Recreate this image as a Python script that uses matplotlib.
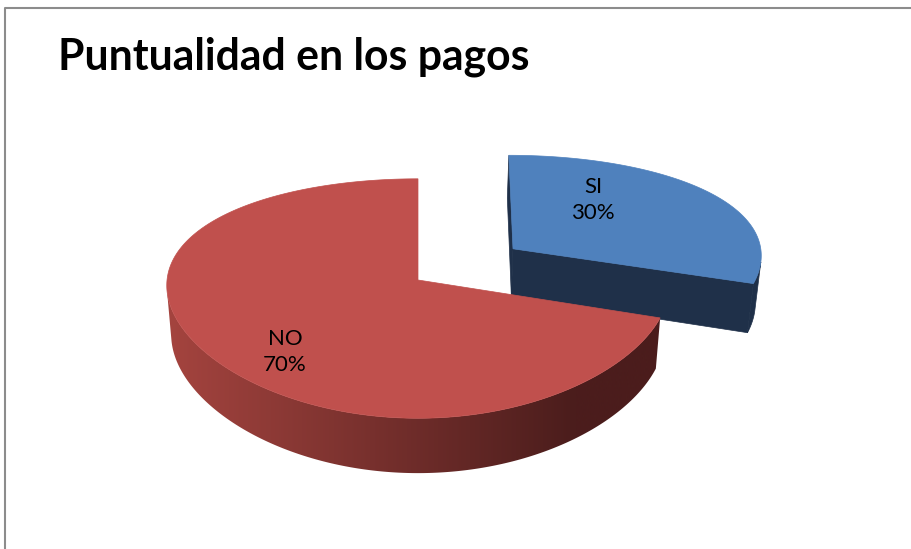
import numpy as np
import matplotlib.pyplot as plt
from matplotlib.patches import Polygon
from matplotlib.colors import to_rgb

# Datos
categorias = ["SI", "NO"]
valores = [30, 70]
explotar = [0.474, 0.0]
colores_top = ["#4F81BD", "#C0504D"]
colores_lado = ["#1F3049", None]
titulo = "Puntualidad en los pagos"

W, H = 912, 549
fig = plt.figure(figsize=(W / 100, H / 100), dpi=100)
ax = fig.add_axes([0, 0, 1, 1])
ax.set_xlim(0, W)
ax.set_ylim(H, 0)
ax.axis("off")

# proyeccion en perspectiva (vista de Excel 3D)
phi = np.radians(27.5)
s, c = np.sin(phi), np.cos(phi)
D = 5.73
kx, ky = 1438, 1450
px = 0.3   # perspectiva horizontal mas debil en profundidad
cx, cy = 418, 280
h = 0.222


def proj(x, y, z):
    depth = D + y * c - z * s
    depth_x = D + px * y * c - z * s
    return cx + kx * x / depth_x, cy - ky * (y * s + z * c) / depth


def area(pts):
    p = np.array(pts)
    return np.sum(p[:, 0] * np.roll(p[:, 1], -1) - np.roll(p[:, 0], -1) * p[:, 1])


# degradado del lado rojo
gx = np.linspace(0, W, 400)
t = np.clip((gx - 165) / (575 - 165), 0, 1)
ca = np.array(to_rgb("#A5443F"))
cb = np.array(to_rgb("#4B1D1C"))
grad = (ca[None, :] + (cb - ca)[None, :] * t[:, None])[None, :, :]

# angulos: empieza a las 12 y gira en sentido horario
tot = sum(valores)
inicio = 90.0
rangos = []
for v in valores:
    fin = inicio - 360.0 * v / tot
    rangos.append((fin, inicio))
    inicio = fin

# dibujar SI primero (detras), luego NO
for i in [0, 1]:
    a0, a1 = np.radians(rangos[i][0]), np.radians(rangos[i][1])
    mid = (a0 + a1) / 2
    ox, oy = explotar[i] * np.cos(mid), explotar[i] * np.sin(mid)
    th = np.linspace(a0, a1, 400)
    xs, ys = ox + np.cos(th), oy + np.sin(th)

    # caras de corte
    for ang, sgn in [(a0, 1), (a1, -1)]:
        pts = [proj(ox, oy, 0), proj(ox + np.cos(ang), oy + np.sin(ang), 0),
               proj(ox + np.cos(ang), oy + np.sin(ang), -h), proj(ox, oy, -h)]
        if sgn * area(pts) > 50:
            col = colores_lado[i] if colores_lado[i] else grad[0, int(pts[1][0] / W * 399)]
            ax.add_patch(Polygon(pts, closed=True, fc=col, ec=col, lw=0.5))

    # pared curva (solo la parte visible)
    vis = []
    for j in range(len(th) - 1):
        q = [proj(xs[j], ys[j], 0), proj(xs[j + 1], ys[j + 1], 0),
             proj(xs[j + 1], ys[j + 1], -h), proj(xs[j], ys[j], -h)]
        vis.append(area(q) > 0)
    vis = np.array(vis)
    if vis.any():
        idx = np.where(vis)[0]
        j0, j1 = idx.min(), idx.max() + 1
        arriba = [proj(xs[j], ys[j], 0) for j in range(j0, j1 + 1)]
        abajo = [proj(xs[j], ys[j], -h) for j in range(j1, j0 - 1, -1)]
        if colores_lado[i]:
            ax.add_patch(Polygon(arriba + abajo, closed=True, fc=colores_lado[i],
                                 ec=colores_lado[i], lw=0.5))
        else:
            pared = Polygon(arriba + abajo, closed=True, fc="none", ec="none")
            ax.add_patch(pared)
            im = ax.imshow(grad, extent=(0, W, H, 0), aspect="auto", interpolation="bilinear")
            im.set_clip_path(pared)

    # cara superior
    top = [proj(ox, oy, 0)] + [proj(x, y, 0) for x, y in zip(xs, ys)]
    ax.add_patch(Polygon(top, closed=True, fc=colores_top[i], ec=colores_top[i], lw=0.5))

ax.set_xlim(0, W)
ax.set_ylim(H, 0)

# etiquetas
pos_etq = [(593, 200), (285, 352)]
for i, cat in enumerate(categorias):
    ax.text(pos_etq[i][0], pos_etq[i][1], f"{cat}\n{valores[i]}%", ha="center", va="center",
            fontsize=16, family="Lato", linespacing=1.4, color="black")

ax.text(58, 57, titulo, ha="left", va="center", fontsize=30.8, fontweight="bold",
        family="Lato", color="black")

# marco
ax.plot([5.5, 5.5, W], [H, 7.5, 7.5], color="#8C8C8C", lw=1.5, solid_capstyle="butt")

fig.savefig("out.png", dpi=100)
